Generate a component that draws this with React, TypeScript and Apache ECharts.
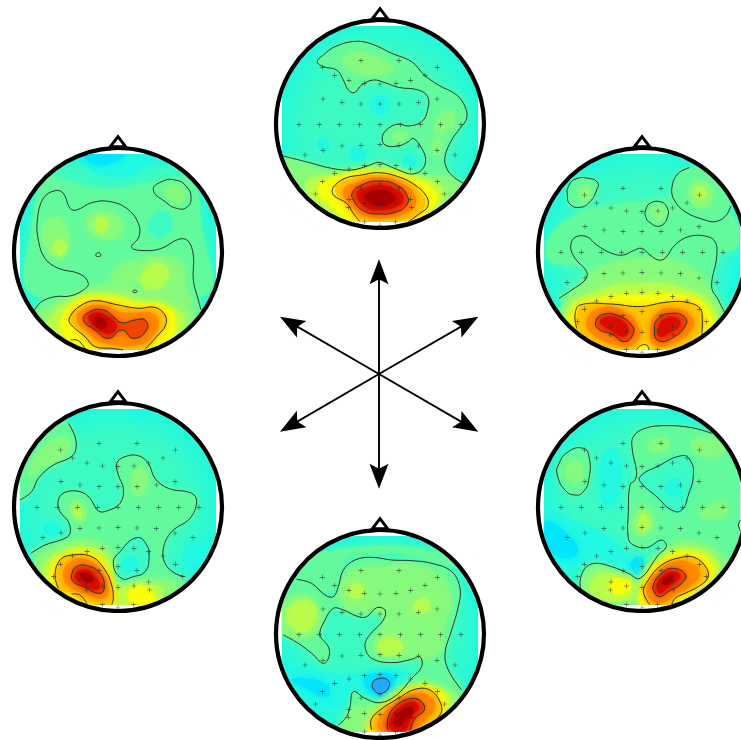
import React, { useEffect, useRef } from "react";
import * as echarts from "echarts";

type P = [number, number];
type Fill = [string, P[]];

// colour scale (jet-like) from low to high amplitude
const BLUE = "#20a8ff", CYAN2 = "#00e4ff", CYAN = "#20f8e4", TEAL = "#3cfac4", GREEN = "#62fa9c";
const LIME = "#88fa7c", YG = "#bcfc48", YEL = "#f8fc08", AMB = "#ffc400", ORG = "#ff8a00", RED = "#f04400", DRD = "#d81000", DK = "#a80000";

// head frames: crop origin in px, head centre in data units (3 units = 1 px)
const headOrigins: P[] = [[265, 0], [5, 130], [525, 130], [5, 385], [525, 385], [265, 510]];
const headCentres: P[] = [[345, 372], [339, 366], [351, 366], [339, 366], [351, 366], [345, 372]];
const showElectrodes = [true, false, true, true, true, true];

// electrode offsets from head centre
const electrodes: P[] = [
  [-57, -190], [57, -190], [172, -170], [-173, -170],
  [-136, -146], [-93, -131], [-47, -122], [0, -120], [48, -122], [92, -131], [135, -146],
  [-171, -75], [-114, -65], [-57, -60], [0, -60], [57, -60], [115, -65], [171, -75],
  [-243, 2], [-182, 2], [-122, 2], [-61, 2], [0, 2], [61, 2], [122, 2], [182, 2], [243, 2],
  [-171, 79], [-114, 66], [-57, 64], [0, 62], [57, 64], [115, 66], [171, 79], [-225, 93], [225, 93],
  [-136, 148], [-93, 135], [-47, 125], [0, 122], [48, 125], [92, 135], [135, 148],
  [-173, 173], [172, 173], [-193, 210], [193, 210], [-57, 192], [0, 180], [57, 192],
  [-93, 226], [-47, 238], [0, 242], [48, 238], [92, 226], [95, 250], [-95, 250],
  [-47, 294], [0, 304], [47, 294],
];

// ---- head 1 (top)
const h1Main: P[] = [[55,468],[130,487],[200,505],[260,510],[310,497],[340,487],[365,495],[405,512],[440,522],[470,510],[482,480],[470,445],[445,415],[430,425],[400,438],[360,435],[352,410],[370,385],[400,372],[430,378],[470,365],[488,330],[488,290],[460,270],[400,262],[360,248],[325,240],[290,255],[268,278],[250,270],[235,240],[215,210],[175,200],[157,185],[175,165],[210,140],[270,124],[320,132],[380,160],[440,185],[478,225],[520,255],[575,285],[600,320],[605,355],[585,385],[560,420],[540,470],[545,505],[565,530],[595,550]];
const h1Hot: P[] = [[285,665],[265,640],[245,610],[205,585],[205,562],[240,535],[290,525],[340,518],[400,530],[450,555],[485,590],[488,620],[465,640],[430,665]];
const h1Core: P[] = [[262,578],[290,555],[345,543],[400,558],[428,590],[425,615],[395,635],[345,642],[295,632],[265,600]];
const h1Fills: Fill[] = [
  [GREEN, [...h1Main, [640,560],[600,700],[100,700],[30,480]]],
  [LIME, [[235,170],[300,160],[380,195],[385,215],[310,225],[250,205]]],
  [LIME, [[520,350],[560,335],[570,370],[540,400],[510,400]]],
  [LIME, [[505,420],[530,420],[525,460],[505,460]]],
  [LIME, [[380,405],[420,395],[430,410],[395,425]]],
  [CYAN, [[315,312],[345,285],[375,312],[345,345]]],
  [CYAN, [[250,460],[275,440],[305,460],[275,485]]],
  [CYAN, [[155,430],[175,415],[195,435],[175,455]]],
  [CYAN, [[410,485],[430,465],[455,485],[430,505]]],
  [LIME, [[70,480],[200,515],[345,500],[470,525],[560,530],[590,560],[560,620],[480,670],[210,670],[120,610],[70,520]]],
  [YG, [[130,540],[210,525],[345,508],[460,530],[530,560],[535,600],[480,655],[240,665],[160,620],[125,575]]],
  [YEL, [[160,565],[220,530],[340,515],[440,535],[510,575],[510,615],[450,660],[280,668],[200,620]]],
  [AMB, [[210,565],[240,540],[340,525],[420,540],[470,580],[480,615],[440,655],[290,660],[240,610]]],
  [ORG, [[235,570],[280,545],[345,532],[420,555],[450,590],[445,625],[400,648],[310,650],[260,620]]],
  [RED, h1Core],
  [DRD, [[275,580],[300,565],[345,555],[395,570],[415,592],[405,615],[345,630],[300,620]]],
  [DK, [[300,585],[345,570],[385,585],[385,605],[345,618],[310,605]]],
];
const h1Open: P[][] = [h1Main, h1Hot];
const h1Closed: P[][] = [h1Core];

// ---- head 2 (upper left)
const h2Main: P[] = [[85,545],[110,515],[150,500],[195,498],[235,480],[250,460],[225,432],[160,415],[120,385],[100,330],[97,270],[115,205],[150,182],[175,190],[195,235],[215,240],[260,218],[310,214],[365,235],[400,280],[402,320],[380,352],[420,362],[470,355],[520,328],[548,332],[565,375],[565,450],[580,510],[588,540]];
const h2Lobe: P[] = [[445,180],[470,155],[510,150],[545,170],[558,205],[545,232],[515,235],[480,215]];
const h2Hot: P[] = [[355,660],[320,655],[270,650],[240,620],[195,580],[195,560],[225,528],[270,512],[340,525],[400,535],[450,532],[480,555],[482,585],[455,620],[420,658]];
const h2Core: P[] = [[235,570],[255,545],[295,540],[325,560],[350,578],[390,570],[420,570],[425,600],[385,625],[350,600],[310,625],[270,600]];
const h2Dot1: P[] = [[272,375],[280,368],[288,375],[280,380]];
const h2Dot2: P[] = [[383,484],[390,480],[396,484],[390,488]];
const h2Tail: P[] = [[197,630],[220,632],[243,660]];
const h2Fills: Fill[] = [
  [GREEN, [[150,130],[340,140],[540,140],[590,300],[590,500],[100,500],[80,300]]],
  [TEAL, [[100,72],[590,72],[560,130],[420,155],[300,170],[170,140]]],
  [CYAN, [[225,72],[450,72],[410,120],[340,140],[260,120]]],
  [CYAN2, [[240,70],[360,70],[320,100],[260,100]]],
  [TEAL, [[435,275],[470,245],[500,280],[470,320],[440,310]]],
  [GREEN, [...h2Main, [600,700],[80,700]]],
  [GREEN, h2Lobe],
  [LIME, [[480,180],[515,165],[540,200],[510,220]]],
  [LIME, [[115,290],[150,260],[180,280],[190,340],[160,385],[120,350]]],
  [YG, [[145,345],[165,330],[185,350],[165,378]]],
  [LIME, [[255,255],[300,245],[350,270],[340,320],[280,320],[245,290]]],
  [YG, [[270,275],[295,260],[310,285],[285,310]]],
  [LIME, [[330,420],[400,390],[480,380],[530,400],[545,480],[560,520],[420,520],[330,470]]],
  [YG, [[420,420],[470,400],[490,440],[450,480],[410,470]]],
  [GREEN, [[375,480],[395,465],[410,485],[390,500]]],
  [LIME, [[90,560],[170,510],[330,460],[420,480],[520,510],[570,560],[530,650],[160,660],[100,610]]],
  [YG, [[130,570],[200,510],[300,490],[400,510],[500,530],[540,570],[500,650],[210,660],[140,610]]],
  [YEL, [[170,570],[215,515],[290,500],[400,520],[470,525],[510,570],[470,650],[240,660],[180,620]]],
  [AMB, [[195,560],[225,528],[270,512],[340,525],[400,535],[450,532],[480,555],[482,585],[455,620],[420,658],[355,662],[270,650],[225,605]]],
  [ORG, [[215,565],[240,535],[290,525],[345,545],[390,548],[440,548],[460,570],[450,610],[400,645],[300,640],[245,605]]],
  [RED, h2Core],
  [DRD, [[250,565],[270,548],[300,555],[335,585],[315,612],[285,600]]],
  [DK, [[265,570],[285,560],[305,580],[295,595],[275,590]]],
];
const h2Open: P[][] = [h2Main, h2Hot, h2Tail];
const h2Closed: P[][] = [h2Lobe, h2Core, h2Dot1, h2Dot2];

// ---- head 3 (upper right)
const h3A: P[] = [[130,170],[150,148],[190,145],[218,158],[215,180],[195,215],[165,232],[135,222],[127,195]];
const h3B: P[] = [[493,113],[460,130],[442,165],[445,205],[480,245],[540,270],[570,275],[600,260],[618,228]];
const h3C: P[] = [[362,240],[375,220],[405,215],[425,230],[428,260],[405,288],[375,278],[362,260]];
const h3D: P[] = [[600,550],[580,510],[560,470],[575,380],[570,335],[540,318],[490,320],[450,345],[420,385],[400,390],[375,375],[350,355],[325,362],[295,375],[260,370],[215,345],[185,320],[150,322],[137,350],[150,385],[185,425],[180,450],[140,480],[102,505]];
const h3E: P[] = [[155,595],[150,555],[165,525],[260,522],[345,530],[420,517],[480,516],[525,535],[532,575],[530,615]];
const h3F: P[] = [[212,575],[235,553],[280,557],[320,585],[325,610],[300,635],[260,612],[222,598]];
const h3G: P[] = [[388,600],[400,565],[440,550],[478,560],[482,585],[440,625],[400,632]];
const h3Nick: P[] = [[335,660],[345,648],[365,645],[372,660]];
const h3Fills: Fill[] = [
  [GREEN, [[90,300],[300,220],[600,240],[620,360],[90,400]]],
  [CYAN, [[625,400],[640,400],[640,470],[620,490]]],
  [GREEN, h3A],
  [GREEN, [...h3B, [650,200],[590,90]]],
  [GREEN, h3C],
  [LIME, [[490,190],[525,150],[565,190],[530,235]]],
  [YG, [[510,190],[525,170],[545,190],[528,210]]],
  [LIME, [[375,245],[400,225],[420,250],[400,275]]],
  [LIME, [[160,190],[185,165],[200,190],[175,215]]],
  [GREEN, [...h3D, [600,700],[100,700]]],
  [LIME, [[210,420],[345,385],[470,400],[540,460],[540,540],[170,540],[170,470]]],
  [LIME, [[110,530],[200,450],[345,440],[500,450],[590,540],[570,620],[460,680],[220,680],[120,620]]],
  [YG, [[125,540],[200,490],[345,460],[490,480],[570,540],[560,610],[460,670],[230,670],[130,610]]],
  [YEL, [[140,545],[200,510],[345,495],[490,500],[550,540],[550,610],[440,660],[240,660],[150,610]]],
  [AMB, [[155,560],[175,525],[345,528],[480,516],[525,540],[530,600],[460,650],[240,650],[160,600]]],
  [ORG, [[185,575],[220,535],[290,540],[340,590],[330,640],[270,645],[200,610]]],
  [ORG, [[375,600],[395,550],[445,535],[500,560],[500,600],[440,640],[390,645]]],
  [RED, h3F],
  [RED, h3G],
  [DRD, [[225,575],[250,560],[290,570],[310,600],[295,620],[255,600]]],
  [DRD, [[400,595],[420,565],[455,565],[465,585],[430,610],[405,620]]],
  [YEL, [[335,662],[345,648],[365,645],[372,662]]],
];
const h3Open: P[][] = [h3B, h3D, h3E, h3Nick];
const h3Closed: P[][] = [h3A, h3C, h3F, h3G];

// ---- head 4 (lower left)
const h4A: P[] = [[190,115],[210,155],[212,195],[195,218],[145,240],[100,280],[80,320],[45,345]];
const h4B: P[] = [[78,505],[120,480],[175,462],[195,445],[190,410],[165,380],[160,345],[180,322],[225,320],[255,340],[280,378],[305,378],[345,355],[355,310],[340,270],[335,235],[360,215],[400,212],[430,235],[450,280],[490,310],[560,325],[575,350],[555,400],[500,440],[475,490],[480,535],[510,565],[540,575]];
const h4C: P[] = [[325,535],[345,500],[395,458],[425,480],[432,520],[420,560],[385,575],[350,580]];
const h4D: P[] = [[160,610],[150,570],[165,525],[200,510],[260,515],[300,555],[320,600],[325,640],[320,660]];
const h4E: P[] = [[200,627],[225,630],[245,655]];
const h4F: P[] = [[200,570],[215,545],[250,543],[285,565],[298,605],[285,625],[235,605],[205,590]];
const h4Fills: Fill[] = [
  [GREEN, [...h4A, [20,300],[30,200],[110,100]]],
  [LIME, [[70,270],[120,180],[190,160],[180,210],[110,250]]],
  [GREEN, [...h4B, [500,700],[200,700]]],
  [TEAL, h4C],
  [CYAN, [[345,535],[385,515],[400,545],[360,560]]],
  [CYAN, [[540,490],[570,470],[620,490],[590,550],[540,540]]],
  [CYAN, [[370,72],[450,72],[420,100],[380,95]]],
  [CYAN, [[115,425],[140,410],[170,440],[130,450]]],
  [LIME, [[195,375],[215,345],[245,390],[225,410]]],
  [YG, [[205,375],[215,360],[232,390],[222,400]]],
  [LIME, [[385,260],[420,250],[420,320],[390,330]]],
  [LIME, [[85,540],[160,480],[280,470],[330,520],[330,590],[440,580],[520,600],[480,670],[200,670],[110,610]]],
  [YG, [[115,550],[170,500],[270,490],[320,540],[320,600],[400,600],[470,610],[450,665],[220,665],[125,610]]],
  [YEL, [[135,560],[175,510],[260,505],[310,555],[330,620],[325,660],[250,660],[150,615]]],
  [YEL, [[375,650],[380,610],[420,605],[450,640],[435,665]]],
  [AMB, [[160,610],[150,570],[165,525],[200,510],[260,515],[300,555],[320,600],[320,655],[240,650],[200,627]]],
  [ORG, [[175,580],[190,535],[240,522],[290,560],[310,610],[300,640],[250,630],[200,610]]],
  [RED, h4F],
  [DRD, [[210,570],[235,555],[265,570],[285,605],[270,615],[225,595]]],
  [DK, [[225,570],[245,563],[265,585],[245,590]]],
];
const h4Open: P[][] = [h4A, h4B, h4D, h4E];
const h4Closed: P[][] = [h4C, h4F];

// ---- head 5 (lower right)
const h5A: P[] = [[100,240],[130,200],[175,190],[192,215],[192,280],[175,320],[150,330],[120,315],[97,270]];
const h5B: P[] = [[560,145],[500,128],[420,122],[360,130],[325,155],[322,195],[335,260],[330,285],[315,300],[310,380],[310,460],[325,480],[365,488],[410,465],[424,485],[400,510],[345,580],[310,565],[260,545],[210,535],[180,550],[165,590],[170,620]];
const h5C: P[] = [[345,275],[400,243],[470,212],[495,225],[505,270],[490,330],[470,375],[440,375],[395,335],[350,295]];
const h5D: P[] = [[375,660],[355,620],[370,585],[410,540],[465,518],[510,518],[545,550],[548,580],[520,605],[480,625],[450,640],[440,660]];
const h5F: P[] = [[385,600],[410,565],[445,550],[482,570],[470,595],[430,620],[405,635],[390,625]];
const h5Nick: P[] = [[647,405],[640,420],[648,440]];
const h5Fills: Fill[] = [
  [CYAN, [[240,200],[280,200],[280,340],[240,360],[225,280]]],
  [CYAN, [[60,380],[130,400],[280,480],[330,580],[200,530],[130,540],[60,480]]],
  [CYAN2, [[60,410],[120,440],[160,500],[120,520],[60,480]]],
  [GREEN, h5A],
  [LIME, [[120,260],[150,225],[175,260],[150,295]]],
  [GREEN, [...h5B, [200,700],[500,700],[640,560],[660,300],[620,180]]],
  [TEAL, h5C],
  [CYAN, [[420,300],[460,280],[470,320],[430,330]]],
  [CYAN2, [[318,530],[345,515],[362,545],[340,570],[320,550]]],
  [LIME, [[330,400],[355,360],[385,420],[350,450],[325,430]]],
  [YG, [[340,410],[355,385],[372,420],[350,440]]],
  [LIME, [[370,175],[420,160],[430,190],[380,200]]],
  [LIME, [[500,170],[560,160],[600,200],[520,210]]],
  [LIME, [[530,380],[600,350],[600,390],[530,400]]],
  [LIME, [[170,590],[215,545],[270,560],[340,590],[340,640],[200,650]]],
  [YG, [[195,600],[240,565],[310,590],[345,610],[330,640],[220,640]]],
  [YEL, [[260,590],[290,580],[320,600],[300,625],[260,620]]],
  [LIME, [[340,590],[410,500],[500,470],[590,510],[600,570],[520,640],[450,680],[340,680]]],
  [YG, [[345,600],[420,510],[500,490],[570,520],[580,570],[500,640],[440,670],[350,670]]],
  [YEL, [[350,610],[420,520],[510,505],[560,540],[560,580],[490,630],[440,665],[360,668]]],
  [AMB, h5D],
  [ORG, [[365,615],[395,565],[445,530],[500,535],[525,565],[500,600],[450,630],[420,650],[385,650]]],
  [RED, h5F],
  [DRD, [[395,600],[420,570],[450,560],[465,575],[430,605],[405,625]]],
  [DK, [[410,590],[430,572],[445,575],[425,600]]],
];
const h5Open: P[][] = [h5B, h5D, h5Nick];
const h5Closed: P[][] = [h5A, h5C, h5F];

// ---- head 6 (bottom)
const h6A: P[] = [[590,540],[550,480],[540,430],[560,360],[580,290],[585,235],[560,185],[500,160],[440,152],[380,150],[320,142],[270,150],[235,180],[220,230],[205,260],[180,255],[140,220],[95,208]];
const h6B: P[] = [[55,375],[100,400],[140,430],[175,460],[192,440],[190,410],[165,375],[180,330],[205,295],[230,298],[280,320],[305,320],[335,293],[360,300],[355,330],[310,380],[300,410],[320,445],[380,458],[440,448],[465,440],[470,470],[440,505],[395,555],[345,578],[300,565],[265,545],[255,590],[245,620],[220,645]];
const h6D: P[] = [[320,660],[318,630],[345,600],[400,565],[450,538],[495,540],[525,575],[528,610],[495,640],[450,660]];
const h6F: P[] = [[368,660],[370,620],[395,585],[440,565],[470,575],[478,600],[450,625],[435,660]];
const h6G: P[] = [[322,520],[345,505],[370,512],[372,530],[355,548],[335,548]];
const h6Fills: Fill[] = [
  [CYAN, [[55,500],[100,470],[200,490],[280,490],[400,480],[430,500],[380,560],[300,555],[230,590],[150,590],[90,560]]],
  [CYAN2, [[80,510],[130,505],[190,530],[185,560],[130,540]]],
  [GREEN, [[70,72],[620,72],[630,230],[560,170],[260,140],[200,240],[90,200]]],
  [GREEN, [...h6A, [30,240],[30,370], ...h6B, [250,700],[500,700]]],
  [LIME, [[240,200],[330,170],[500,180],[560,260],[540,340],[520,430],[400,440],[330,420],[350,320],[240,290]]],
  [LIME, [[50,300],[100,255],[160,290],[150,370],[70,380],[50,360]]],
  [YG, [[70,300],[120,270],[155,310],[120,365],[70,340]]],
  [YG, [[245,240],[280,220],[300,250],[270,265]]],
  [YG, [[340,400],[380,380],[415,410],[380,435],[345,425]]],
  [YG, [[445,285],[480,265],[495,295],[460,310]]],
  [CYAN2, [[295,510],[330,490],[390,500],[360,555],[330,555]]],
  [BLUE, h6G],
  [LIME, [[255,600],[290,590],[340,600],[300,670],[240,660]]],
  [LIME, [[280,620],[350,570],[430,520],[520,530],[590,570],[540,640],[480,680],[300,680],[260,650]]],
  [YG, [[310,640],[360,585],[440,530],[510,530],[560,570],[530,630],[470,670],[320,670]]],
  [YEL, [[310,650],[350,600],[430,545],[500,535],[545,580],[510,640],[460,665],[320,668]]],
  [AMB, [...h6D, [400,670]]],
  [ORG, [[345,662],[345,625],[390,580],[440,552],[490,555],[510,590],[480,630],[440,662]]],
  [RED, h6F],
  [DRD, [[375,655],[378,625],[400,595],[440,575],[462,590],[440,620],[420,660]]],
  [DK, [[385,640],[400,610],[435,590],[445,605],[420,630],[405,650]]],
];
const h6Open: P[][] = [h6A, h6B, h6D, h6F];
const h6Closed: P[][] = [h6G];

const headFills = [h1Fills, h2Fills, h3Fills, h4Fills, h5Fills, h6Fills];
const headOpen = [h1Open, h2Open, h3Open, h4Open, h5Open, h6Open];
const headClosed = [h1Closed, h2Closed, h3Closed, h4Closed, h5Closed, h6Closed];

// arrows, in their own frame
const arrowOrigin: P = [270, 250];
const arrowCentre: P = [327, 372];
const arrowTips: P[] = [[327, 28], [327, 716], [30, 200], [625, 200], [30, 545], [625, 545]];

const plus = "path://M4.4 0h1.2v4.4h4.4v1.2H5.6V10H4.4V5.6H0V4.4h4.4z";
const softColours = [LIME, YG, CYAN, CYAN2];

// outline of the interpolated field: circle clipped by a square
function fieldOutline(c: P): P[] {
  const out: P[] = [];
  for (let a = 0; a < 360; a += 3) {
    const t = (a * Math.PI) / 180;
    const x = Math.max(-295, Math.min(295, 306 * Math.cos(t)));
    const y = Math.max(-294, Math.min(294, 306 * Math.sin(t)));
    out.push([c[0] + x, c[1] + y]);
  }
  return out;
}
function circlePts(c: P, r: number): P[] {
  const out: P[] = [];
  for (let a = 0; a < 360; a += 3) {
    const t = (a * Math.PI) / 180;
    out.push([c[0] + r * Math.cos(t), c[1] + r * Math.sin(t)]);
  }
  return out;
}
function inside(pts: P[], c: P, r: number): P[] {
  return pts.map((q) => {
    const dx = q[0] - c[0], dy = q[1] - c[1];
    const d = Math.hypot(dx, dy);
    return d <= r ? q : ([c[0] + (dx * r) / d, c[1] + (dy * r) / d] as P);
  });
}

const baseGradient = {
  type: "radial", x: 0.5, y: 0.5, r: 0.55,
  colorStops: [{ offset: 0, color: TEAL }, { offset: 0.65, color: TEAL }, { offset: 1, color: "#1ef8e0" }],
};

function buildOption() {
  const grids: any[] = [], xAxes: any[] = [], yAxes: any[] = [], series: any[] = [];
  headOrigins.forEach((o, i) => {
    const c = headCentres[i];
    const w = Math.min(240, 741 - o[0]);
    const h = Math.min(240, 740 - o[1]);
    grids.push({ left: o[0], top: o[1], width: w, height: h });
    xAxes.push({ type: "value", min: 0, max: w * 3, show: false, gridIndex: i });
    yAxes.push({ type: "value", min: 0, max: h * 3, inverse: true, show: false, gridIndex: i });
    const outline = fieldOutline(c);
    const outer = circlePts(c, 360);
    const mask: P[] = [...outer, outer[0], outline[0], ...outline.slice().reverse()];
    const fills = headFills[i];
    const open = headOpen[i];
    const closed = headClosed[i];
    type Item = { k: string; pts?: P[]; col?: string };
    const items: Item[] = [
      { k: "base", pts: outline },
      ...fills.map((f) => ({ k: "fill", pts: inside(f[1], c, 325), col: f[0] })),
      { k: "mask", pts: mask },
      ...open.map((p) => ({ k: "open", pts: p })),
      ...closed.map((p) => ({ k: "closed", pts: p })),
      { k: "ear", pts: [[c[0] - 23, c[1] - 316], [c[0], c[1] - 346], [c[0] + 23, c[1] - 316]] as P[] },
      { k: "ring" },
    ];
    series.push({
      type: "custom",
      coordinateSystem: "cartesian2d",
      xAxisIndex: i,
      yAxisIndex: i,
      silent: true,
      z: 2,
      data: items.map((it, idx) => [idx, 0]),
      renderItem: (p: any, api: any) => {
        const it = items[p.dataIndex];
        const toPx = (pts: P[]) => pts.map((q) => api.coord(q));
        if (it.k === "ring") {
          const cc = api.coord(c);
          return { type: "circle", shape: { cx: cc[0], cy: cc[1], r: 104 }, style: { fill: "none", stroke: "#000", lineWidth: 4.2 } };
        }
        const pts = toPx(it.pts as P[]);
        if (it.k === "base") return { type: "polygon", shape: { points: pts }, style: { fill: baseGradient } };
        if (it.k === "mask") return { type: "polygon", shape: { points: pts }, style: { fill: "#fff" } };
        if (it.k === "fill") {
          const soft = softColours.includes(it.col as string);
          return {
            type: "polygon",
            shape: { points: pts, smooth: 0.5 },
            style: { fill: it.col, opacity: soft ? 0.8 : 1, shadowBlur: soft ? 10 : 7, shadowColor: it.col },
          };
        }
        if (it.k === "closed")
          return { type: "polygon", shape: { points: pts, smooth: 0.5 }, style: { fill: "none", stroke: "#26362f", lineWidth: 1 } };
        if (it.k === "open")
          return { type: "polyline", shape: { points: pts, smooth: 0.4 }, style: { fill: "none", stroke: "#26362f", lineWidth: 1 } };
        return { type: "polygon", shape: { points: pts }, style: { fill: "#fff", stroke: "#000", lineWidth: 3 } };
      },
    });
    if (showElectrodes[i]) {
      series.push({
        type: "scatter",
        coordinateSystem: "cartesian2d",
        xAxisIndex: i,
        yAxisIndex: i,
        silent: true,
        z: 3,
        symbol: plus,
        symbolSize: 5,
        itemStyle: { color: "#24332e", opacity: 0.8 },
        data: electrodes.map((e) => [c[0] + e[0], c[1] + e[1] - (i === 0 || i === 5 ? 0 : 1)]),
      });
    }
  });
  const ai = headOrigins.length;
  grids.push({ left: arrowOrigin[0], top: arrowOrigin[1], width: 220, height: 245 });
  xAxes.push({ type: "value", min: 0, max: 660, show: false, gridIndex: ai });
  yAxes.push({ type: "value", min: 0, max: 735, inverse: true, show: false, gridIndex: ai });
  series.push({
    type: "custom",
    coordinateSystem: "cartesian2d",
    xAxisIndex: ai,
    yAxisIndex: ai,
    silent: true,
    z: 2,
    data: arrowTips,
    renderItem: (_: any, api: any) => {
      const tip = api.coord([api.value(0), api.value(1)]);
      const from = api.coord(arrowCentre);
      const dx = tip[0] - from[0], dy = tip[1] - from[1];
      const len = Math.hypot(dx, dy);
      const ux = dx / len, uy = dy / len, nx = -uy, ny = ux;
      const at = (back: number, side: number) => [tip[0] - ux * back + nx * side, tip[1] - uy * back + ny * side];
      return {
        type: "group",
        children: [
          { type: "line", shape: { x1: from[0], y1: from[1], x2: tip[0] - ux * 10, y2: tip[1] - uy * 10 }, style: { stroke: "#000", lineWidth: 1.9 } },
          { type: "polygon", shape: { points: [at(0, 0), at(25, 9.5), at(20, 0), at(25, -9.5)] }, style: { fill: "#000" } },
        ],
      };
    },
  });
  return { animation: false, backgroundColor: "#fff", grid: grids, xAxis: xAxes, yAxis: yAxes, series };
}

export default function App() {
  const ref = useRef<HTMLDivElement>(null);
  useEffect(() => {
    document.body.style.margin = "0";
    const chart = echarts.init(ref.current as HTMLDivElement, undefined, { renderer: "svg" });
    chart.setOption(buildOption() as any);
    return () => chart.dispose();
  }, []);
  return <div ref={ref} style={{ width: 741, height: 740, overflow: "hidden" }} />;
}
